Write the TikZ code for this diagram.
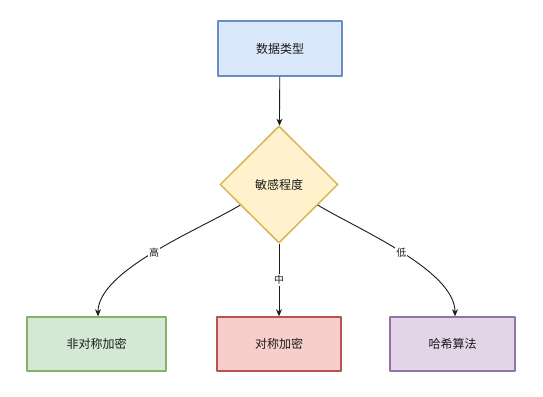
\documentclass[tikz,border=0pt]{standalone}
\usepackage{fontspec}
\setmainfont{Noto Sans CJK SC}
\usetikzlibrary{arrows.meta,calc,shapes.geometric}
\definecolor{typeFill}{HTML}{DAE8FC}
\definecolor{typeLine}{HTML}{6C8EBF}
\definecolor{sensFill}{HTML}{FFF2CC}
\definecolor{sensLine}{HTML}{D6B656}
\definecolor{asymFill}{HTML}{D5E8D4}
\definecolor{asymLine}{HTML}{82B366}
\definecolor{symFill}{HTML}{F8CECC}
\definecolor{symLine}{HTML}{B85450}
\definecolor{hashFill}{HTML}{E1D5E7}
\definecolor{hashLine}{HTML}{9673A6}
\definecolor{edgeInk}{HTML}{1A1A1A}
\begin{document}
\begin{tikzpicture}[x=1pt,y=-1pt,>={Stealth[length=7pt,width=6pt]},line join=round]
\useasboundingbox (0,0) rectangle (543,396);
\path[fill=white] (0,0) rectangle (543,396);
\tikzset{box/.style={draw,line width=1.5pt,inner sep=0pt,font=\fontsize{12}{14}\selectfont,text=edgeInk},choice/.style={diamond,draw,line width=1.5pt,inner sep=0pt,minimum width=118pt,minimum height=117pt,font=\fontsize{12}{14}\selectfont,text=edgeInk},link/.style={draw=edgeInk,line width=0.9pt,->},tag/.style={fill=white,inner sep=1pt,font=\fontsize{10}{12}\selectfont,text=edgeInk}}
\node[box,fill=typeFill,draw=typeLine,minimum width=124pt,minimum height=55pt] (dtype) at (280,48.5) {数据类型};
\node[choice,fill=sensFill,draw=sensLine] (sens) at (279,184.5) {敏感程度};
\node[box,fill=asymFill,draw=asymLine,minimum width=139pt,minimum height=54pt] (asym) at (96.5,344) {非对称加密};
\node[box,fill=symFill,draw=symLine,minimum width=124pt,minimum height=54pt] (sym) at (279,344) {对称加密};
\node[box,fill=hashFill,draw=hashLine,minimum width=125pt,minimum height=54pt] (hash) at (452.5,344) {哈希算法};
\draw[link] (dtype) -- (sens);
\draw[link] (sens.-152) .. controls +(-40,24) and +(0,-46) .. ($(asym.north)+(1.5,0)$) node[tag,pos=0.5] {高};
\draw[link] (sens) -- (sym) node[tag,midway] {中};
\draw[link] (sens.-28) .. controls +(40,24) and +(0,-46) .. ($(hash.north)+(2.5,0)$) node[tag,pos=0.5] {低};
\end{tikzpicture}
\end{document}
